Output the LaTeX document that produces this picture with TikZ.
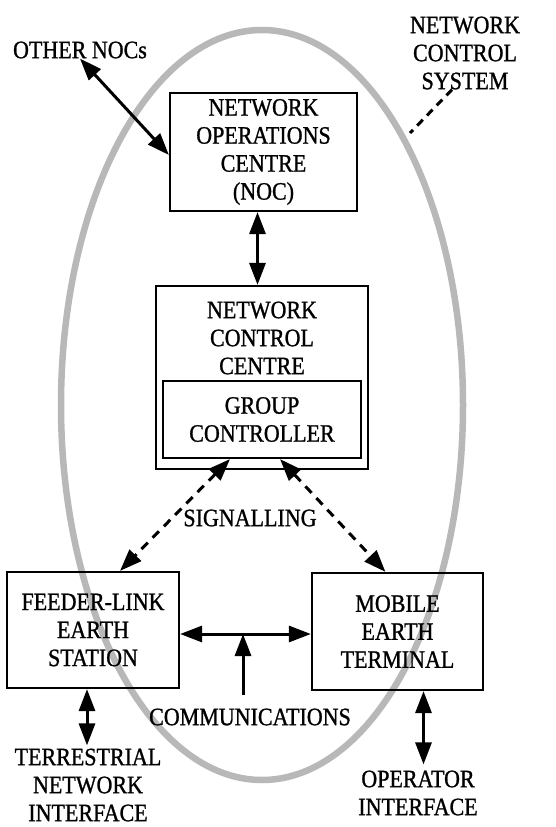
\documentclass[tikz,border=0pt]{standalone}
\usepackage{fontspec}
\setmainfont{Liberation Serif}[FakeStretch=0.88,FakeBold=1]
\usetikzlibrary{arrows.meta,calc}
\begin{document}
\begin{tikzpicture}[x=1pt,y=-1pt,
  txt/.style={align=center,font=\fontsize{25pt}{28pt}\selectfont,inner sep=0pt},
  box/.style={draw,line width=2.2pt,align=center,font=\fontsize{25pt}{28pt}\selectfont,inner sep=0pt},
  tip/.tip={Triangle[length=22pt 0,width=16pt 0]},
  twoway/.style={line width=3pt,tip-tip},
  oneway/.style={line width=3pt,-tip},
  sig/.style={line width=3pt,dash pattern=on 9pt off 7pt,tip-tip},
  ncsline/.style={line width=3pt,dash pattern=on 8pt off 6pt},
  ring/.style={draw=black!28,line width=6.5pt}
]
\useasboundingbox (0,0) rectangle (556,827);

% system boundary
\draw[ring] (262,405) ellipse [x radius=201,y radius=375];

% boxes
\node[box,minimum width=187pt,minimum height=118pt] (noc) at (263.5,152)
  {NETWORK\\OPERATIONS\\CENTRE\\(NOC)};
\node[box,minimum width=212pt,minimum height=183pt] (ncc) at (262,377.5) {};
\node[txt] (ncctext) at (262,338) {NETWORK\\CONTROL\\CENTRE};
\node[box,minimum width=198pt,minimum height=77pt] (gc) at (262,419.5)
  {GROUP\\CONTROLLER};
\node[box,minimum width=172pt,minimum height=116pt] (fles) at (93,630)
  {FEEDER-LINK\\EARTH\\STATION};
\node[box,minimum width=171pt,minimum height=117pt] (met) at (397.5,631.5)
  {MOBILE\\EARTH\\TERMINAL};

% labels
\node[txt] (other) at (80,50) {OTHER NOCs};
\node[txt] (ncs) at (465,53) {NETWORK\\CONTROL\\SYSTEM};
\node[txt] (sigl) at (250,518) {SIGNALLING};
\node[txt] (comm) at (250,717) {COMMUNICATIONS};
\node[txt] (tni) at (88,785) {TERRESTRIAL\\NETWORK\\INTERFACE};
\node[txt] (opi) at (418,793) {OPERATOR\\INTERFACE};

% anchor points for connectors
\coordinate (nocA) at ($(noc.south)+(-6,0)$);
\coordinate (nccA) at (nocA |- ncc.north);
\coordinate (flesA) at ($(fles.south)+(-6,0)$);
\coordinate (tniA) at ($(flesA |- tni.north)+(0,-3)$);
\coordinate (metA) at ($(met.south)+(26,0)$);
\coordinate (opiA) at ($(metA |- opi.north)+(0,-6)$);
\coordinate (flesE) at ($(fles.east)+(0,4)$);
\coordinate (metW) at (flesE -| met.west);
\coordinate (commsrc) at (243,695);
\coordinate (commdst) at (commsrc |- flesE);
\coordinate (ellpt) at (410,133);

% connectors
\draw[twoway] (other.south) -- ($(noc.west)+(0,3)$);
\draw[twoway] (nocA) -- (nccA);
\draw[ncsline] ($(ncs.south)+(-13,0)$) -- (ellpt);
\draw[sig] ($(gc.south)+(-32,0)$) -- ($(fles.north)+(27,0)$);
\draw[sig] ($(gc.south)+(18,0)$) -- ($(met.north)+(-12,0)$);
\draw[twoway] (flesE) -- (metW);
\draw[oneway] (commsrc) -- (commdst);
\draw[twoway] (flesA) -- (tniA);
\draw[twoway] (metA) -- (opiA);
\end{tikzpicture}
\end{document}
